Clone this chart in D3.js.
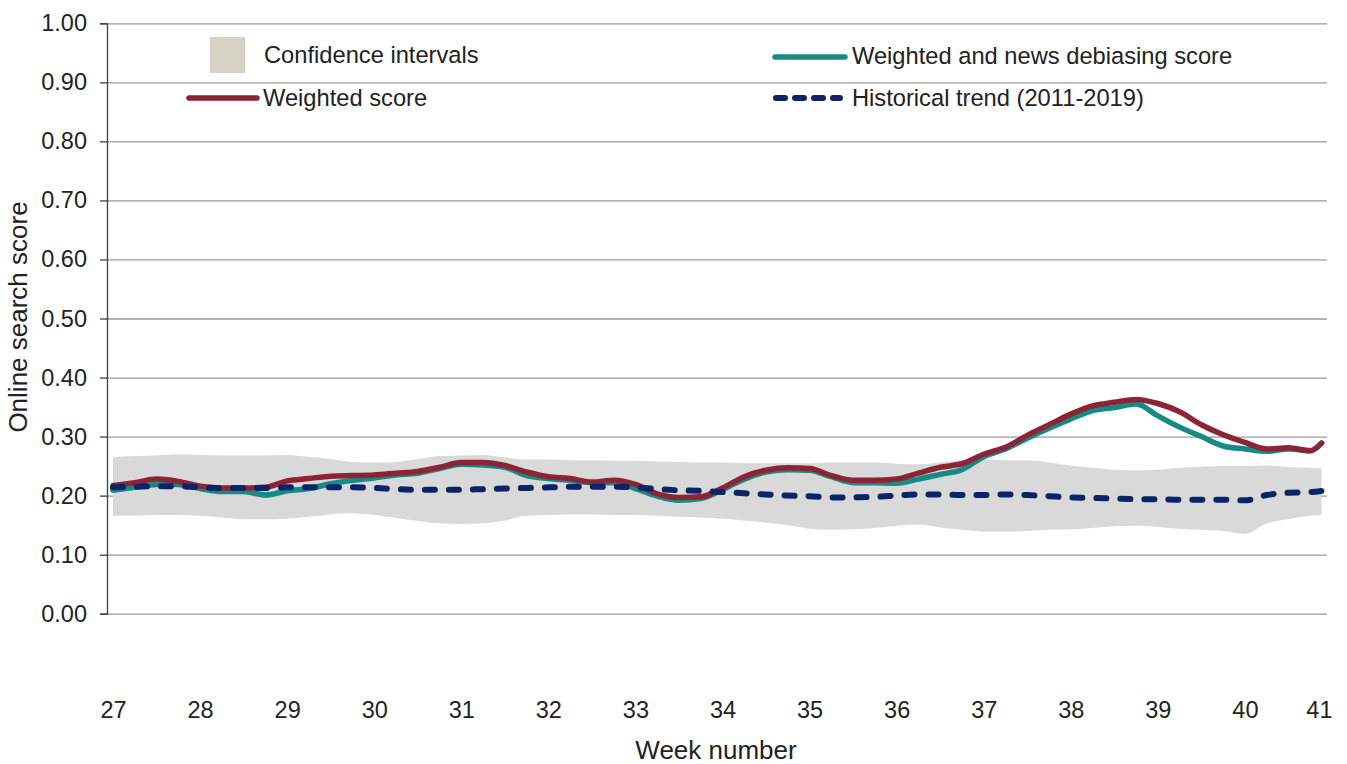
<!DOCTYPE html>
<html>
<head>
<meta charset="utf-8">
<script src="https://cdn.jsdelivr.net/npm/d3@7"></script>
<style>
  body { margin: 0; background: #fff; }
  svg { display: block; font-family: "Liberation Sans", Arial, sans-serif; }
</style>
</head>
<body>
<svg id="chart" width="1347" height="764"></svg>
<script>
// week positions (daily series sampled every quarter week)
var weeks = [27, 27.25, 27.5, 27.75, 28, 28.25, 28.5, 28.75, 29, 29.25, 29.5, 29.75,
  30, 30.25, 30.5, 30.75, 31, 31.25, 31.5, 31.75, 32, 32.25, 32.5, 32.75,
  33, 33.25, 33.5, 33.75, 34, 34.25, 34.5, 34.75, 35, 35.25, 35.5, 35.75,
  36, 36.25, 36.5, 36.75, 37, 37.25, 37.5, 37.75, 38, 38.25, 38.5, 38.75,
  39, 39.25, 39.5, 39.75, 40, 40.25, 40.5, 40.75, 40.88];

var weightedScore = [0.217, 0.222, 0.228, 0.224, 0.216, 0.213, 0.213, 0.214, 0.225, 0.229, 0.233, 0.234,
  0.235, 0.238, 0.241, 0.248, 0.256, 0.256, 0.251, 0.240, 0.232, 0.229, 0.223, 0.226,
  0.219, 0.203, 0.197, 0.198, 0.213, 0.232, 0.243, 0.247, 0.246, 0.234, 0.226, 0.226,
  0.228, 0.238, 0.248, 0.254, 0.270, 0.282, 0.302, 0.320, 0.338, 0.352, 0.358, 0.363,
  0.356, 0.342, 0.320, 0.303, 0.290, 0.279, 0.281, 0.276, 0.289];

var debiasedScore = [0.209, 0.214, 0.219, 0.219, 0.212, 0.207, 0.207, 0.201, 0.208, 0.212, 0.220, 0.226,
  0.230, 0.235, 0.238, 0.246, 0.253, 0.252, 0.248, 0.234, 0.229, 0.226, 0.222, 0.222,
  0.212, 0.199, 0.192, 0.195, 0.210, 0.228, 0.240, 0.244, 0.243, 0.232, 0.222, 0.222,
  0.221, 0.228, 0.236, 0.244, 0.266, 0.279, 0.297, 0.314, 0.330, 0.344, 0.349, 0.355,
  0.335, 0.316, 0.300, 0.284, 0.279, 0.275, 0.279, 0.276, 0.289];

var historicalTrend = [0.214, 0.215, 0.216, 0.216, 0.214, 0.213, 0.213, 0.213, 0.214, 0.214, 0.214, 0.214,
  0.213, 0.211, 0.210, 0.210, 0.210, 0.211, 0.212, 0.213, 0.214, 0.215, 0.215, 0.215,
  0.214, 0.211, 0.209, 0.208, 0.206, 0.204, 0.202, 0.200, 0.199, 0.197, 0.197, 0.198,
  0.200, 0.202, 0.202, 0.201, 0.201, 0.202, 0.201, 0.199, 0.197, 0.196, 0.195, 0.194,
  0.194, 0.193, 0.193, 0.193, 0.192, 0.201, 0.205, 0.206, 0.208];

var ciUpper = [0.265, 0.267, 0.268, 0.270, 0.269, 0.268, 0.268, 0.268, 0.269, 0.266, 0.262, 0.257,
  0.256, 0.257, 0.262, 0.267, 0.268, 0.269, 0.265, 0.261, 0.261, 0.260, 0.260, 0.259,
  0.259, 0.258, 0.257, 0.256, 0.256, 0.255, 0.255, 0.255, 0.255, 0.256, 0.256, 0.256,
  0.254, 0.253, 0.256, 0.260, 0.261, 0.260, 0.260, 0.256, 0.251, 0.247, 0.244, 0.243,
  0.244, 0.247, 0.249, 0.250, 0.250, 0.251, 0.248, 0.247, 0.246];

var ciLower = [0.166, 0.166, 0.167, 0.167, 0.166, 0.163, 0.160, 0.160, 0.161, 0.164, 0.168, 0.170,
  0.167, 0.162, 0.157, 0.153, 0.152, 0.153, 0.158, 0.166, 0.167, 0.168, 0.168, 0.167,
  0.167, 0.166, 0.164, 0.163, 0.161, 0.158, 0.154, 0.150, 0.144, 0.142, 0.143, 0.145,
  0.149, 0.151, 0.146, 0.142, 0.139, 0.139, 0.140, 0.142, 0.143, 0.145, 0.148, 0.149,
  0.147, 0.144, 0.142, 0.140, 0.135, 0.153, 0.160, 0.166, 0.167];

var weekTicks = [27, 28, 29, 30, 31, 32, 33, 34, 35, 36, 37, 38, 39, 40, 41];
var scoreTicks = [0, 0.1, 0.2, 0.3, 0.4, 0.5, 0.6, 0.7, 0.8, 0.9, 1.0];

var plotLeft = 107, plotRight = 1327, plotTop = 23.3, plotBottom = 613.7;

var svg = d3.select("#chart");

var x = d3.scaleLinear().domain([27, 41]).range([113, 1332]);
var y = d3.scaleLinear().domain([0, 1]).range([plotBottom, plotTop]);

// gridlines
svg.append("g")
  .attr("transform", "translate(" + plotLeft + ",0)")
  .call(d3.axisRight(y).tickValues(scoreTicks).tickSize(plotRight - plotLeft).tickFormat(""))
  .call(function (g) {
    g.select(".domain").remove();
    g.selectAll("line").attr("stroke", "#9a9a9a").attr("stroke-width", 1.3);
  });

// confidence band
var rows = weeks.map(function (w, i) {
  return { w: w, wtd: weightedScore[i], deb: debiasedScore[i], hist: historicalTrend[i], lo: ciLower[i], hi: ciUpper[i] };
});

svg.append("path")
  .datum(rows)
  .attr("fill", "#d9d9d9")
  .attr("d", d3.area().curve(d3.curveMonotoneX)
    .x(function (d) { return x(d.w); })
    .y0(function (d) { return y(d.lo); })
    .y1(function (d) { return y(d.hi); }));

// y axis
svg.append("g")
  .attr("transform", "translate(" + plotLeft + ",0)")
  .call(d3.axisLeft(y).tickValues(scoreTicks).tickSize(7).tickPadding(13).tickFormat(d3.format(".2f")))
  .call(function (g) {
    g.select(".domain").attr("stroke", "#404040").attr("stroke-width", 1.3);
    g.selectAll("line").attr("stroke", "#404040").attr("stroke-width", 1.3);
    g.selectAll("text").attr("font-size", 23.5).attr("fill", "#222").attr("font-family", "Liberation Sans, Arial, sans-serif");
  });

// x labels (no ticks)
svg.append("g")
  .attr("transform", "translate(0," + plotBottom + ")")
  .call(d3.axisBottom(x).tickValues(weekTicks).tickSize(0).tickPadding(88).tickFormat(d3.format("d")))
  .call(function (g) {
    g.select(".domain").remove();
    g.selectAll("text").attr("font-size", 23.5).attr("fill", "#222").attr("font-family", "Liberation Sans, Arial, sans-serif");
    g.selectAll(".tick").filter(function (d) { return d === 41; })
      .select("text").attr("text-anchor", "end");
  });

// lines
var line = function (key) {
  return d3.line().curve(d3.curveMonotoneX)
    .x(function (d) { return x(d.w); })
    .y(function (d) { return y(d[key]); });
};

svg.append("path").datum(rows)
  .attr("fill", "none").attr("stroke", "#168b86").attr("stroke-width", 5.5)
  .attr("stroke-linejoin", "round").attr("stroke-linecap", "round")
  .attr("d", line("deb"));

svg.append("path").datum(rows)
  .attr("fill", "none").attr("stroke", "#8b2535").attr("stroke-width", 5.5)
  .attr("stroke-linejoin", "round").attr("stroke-linecap", "round")
  .attr("d", line("wtd"));

svg.append("path").datum(rows)
  .attr("fill", "none").attr("stroke", "#0b2466").attr("stroke-width", 6)
  .attr("stroke-dasharray", "10,14").attr("stroke-linecap", "round")
  .attr("d", line("hist"));

// legend
var legend = svg.append("g").attr("font-size", 23.7).attr("fill", "#222");

legend.append("rect").attr("x", 210).attr("y", 37).attr("width", 35).attr("height", 36).attr("fill", "#d6d3c6");
legend.append("text").attr("x", 264).attr("y", 55).attr("dy", "0.35em").text("Confidence intervals");

legend.append("line").attr("x1", 189).attr("x2", 257).attr("y1", 98).attr("y2", 98)
  .attr("stroke", "#8b2535").attr("stroke-width", 5.5).attr("stroke-linecap", "round");
legend.append("text").attr("x", 263).attr("y", 98).attr("dy", "0.35em").text("Weighted score");

legend.append("line").attr("x1", 775).attr("x2", 845).attr("y1", 57).attr("y2", 57)
  .attr("stroke", "#168b86").attr("stroke-width", 5.5).attr("stroke-linecap", "round");
legend.append("text").attr("x", 852).attr("y", 56).attr("dy", "0.35em").text("Weighted and news debiasing score");

legend.append("line").attr("x1", 776).attr("x2", 840).attr("y1", 98).attr("y2", 98)
  .attr("stroke", "#0b2466").attr("stroke-width", 6).attr("stroke-dasharray", "9,10").attr("stroke-linecap", "round");
legend.append("text").attr("x", 852).attr("y", 98).attr("dy", "0.35em").text("Historical trend (2011-2019)");

// axis titles
svg.append("text")
  .attr("x", 716).attr("y", 750).attr("dy", "0.35em")
  .attr("text-anchor", "middle").attr("font-size", 26).attr("fill", "#222")
  .text("Week number");

svg.append("text")
  .attr("transform", "translate(18,317) rotate(-90)")
  .attr("dy", "0.35em")
  .attr("text-anchor", "middle").attr("font-size", 26).attr("fill", "#222")
  .text("Online search score");
</script>
</body>
</html>
